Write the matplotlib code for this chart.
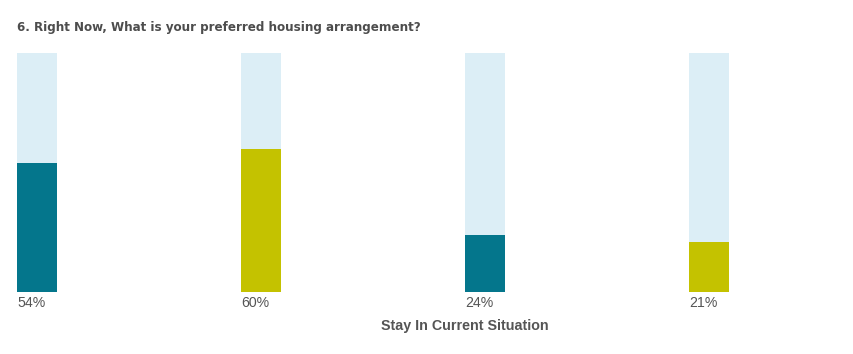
import numpy as np
import matplotlib.pyplot as plt

title = "6. Right Now, What is your preferred housing arrangement?"
xlabel = "Stay In Current Situation"
values = [54, 60, 24, 21]
labels = ["54%", "60%", "24%", "21%"]
colors = ["#04768C", "#C4C200", "#04768C", "#C4C200"]
bg_color = "#DCEEF6"

W, H = 854, 354
fig = plt.figure(figsize=(W / 100, H / 100), dpi=100)

# axes placed in pixel terms: bars start at x=17, spacing 224px, width 40px
left, right = 17, W
bottom, top = 292, 53
ax = fig.add_axes([left / W, (H - bottom) / H, (right - left) / W, (bottom - top) / H])
step = 224
bw = 40 / step
x = np.arange(len(values))
ax.bar(x, [100] * len(values), width=bw, align="edge", color=bg_color, linewidth=0)
ax.bar(x, values, width=bw, align="edge", color=colors, linewidth=0)
ax.set_xlim(0, (right - left) / step)
ax.set_ylim(0, 100)
ax.axis("off")

for xi, lab in zip(x, labels):
    ax.text(xi, -4.4, lab, ha="left", va="center", fontsize=10.2, color="#555555",
            family="Liberation Sans")

fig.text(465 / W, 1 - 326 / H, xlabel, ha="center", va="center", fontsize=10.3,
         fontweight="bold", color="#555555", family="Liberation Sans")

# condensed bold face to get close to the narrow title font
fig.text(17 / W, 1 - 27 / H, title, ha="left", va="center", fontsize=9.5,
         fontweight="bold", fontstretch="condensed", color="#4d4d4d",
         family="DejaVu Sans")

fig.savefig("out.png", dpi=100)
